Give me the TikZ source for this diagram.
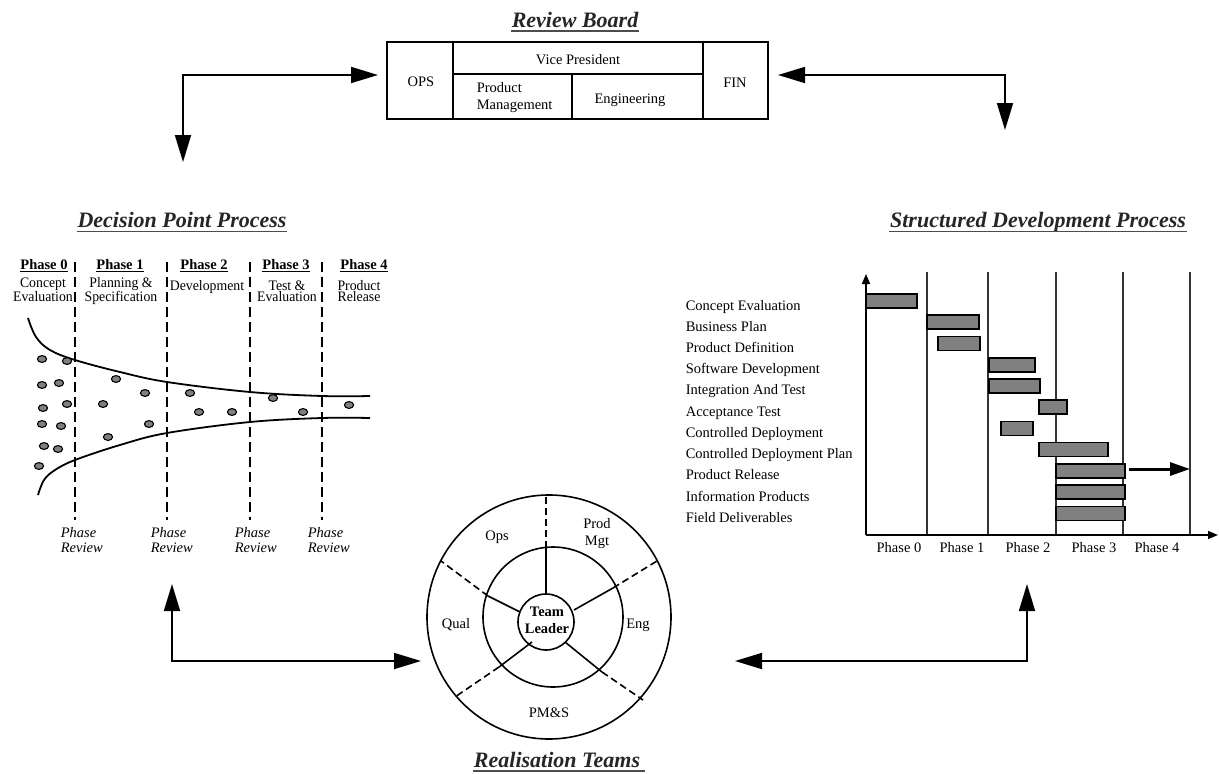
\documentclass[tikz,border=0pt]{standalone}
\usepackage{fontspec}
\setmainfont{Liberation Serif}
\newfontfamily\narrowserif[FakeStretch=0.95]{Liberation Serif}
\usetikzlibrary{arrows.meta}

\begin{document}
\begin{tikzpicture}[x=1pt,y=-1pt,
  line width=1.6pt,
  txt/.style={font=\fontsize{14.5}{17}\selectfont, inner sep=0pt, align=center},
  lbl/.style={font=\fontsize{14.5}{17}\selectfont, inner sep=0pt, anchor=base west},
  boldtxt/.style={font=\fontsize{14.5}{17}\selectfont\bfseries, inner sep=0pt, anchor=base},
  subtxt/.style={font=\narrowserif\fontsize{14.5}{11.2}\selectfont, inner sep=0pt, anchor=base, align=center},
  review/.style={font=\fontsize{14.5}{15}\selectfont\itshape, inner sep=0pt, anchor=base west, align=left},
  title/.style={font=\fontsize{22}{26}\selectfont\bfseries\itshape, text=black!85, inner sep=0pt, anchor=base},
  uline/.style={line width=1.6pt, draw=black!70},
  dblarrow/.style={line width=1.8pt, {Triangle[length=27pt,width=16pt]}-{Triangle[length=27pt,width=16pt]}},
  phaseline/.style={line width=1.8pt, dash pattern=on 10pt off 5pt},
  spokedash/.style={line width=1.6pt, dash pattern=on 7pt off 4pt},
  dot/.style={draw, line width=1.1pt, fill=black!50},
  bar/.style={draw, line width=1.6pt, fill=black!50},
  gridline/.style={line width=1.3pt, draw=black!80},
  axis/.style={line width=1.6pt, -{Triangle[length=10pt,width=8pt]}}
]
\useasboundingbox (0,0) rectangle (1219,774);
\fill[white] (0,0) rectangle (1219,774);

% ---------- Review Board ----------
\node[title] (rbTitle) at (575,27) {Review Board};
\draw[uline] ([yshift=-4pt]rbTitle.base west) -- ([yshift=-4pt]rbTitle.base east);

\draw (387,42) rectangle (768,119);
\draw (453,42) -- (453,119);
\draw (703,42) -- (703,119);
\draw (453,74) -- (703,74);
\draw (572,74) -- (572,119);
\node[txt] (ops) at (421,82) {OPS};
\node[txt] (vp) at (578,60) {Vice President};
\node[txt, align=left, anchor=west] (pm) at (476,98) {Product\\Management};
\node[txt] (eng) at (630,100) {Engineering};
\node[txt] (fin) at (735,83) {FIN};

% ---------- linking arrows ----------
\coordinate (tlDown) at (183,162);
\coordinate (tlRight) at (378,75);
\coordinate (trLeft) at (778,75);
\coordinate (trDown) at (1005,130);
\coordinate (blUp) at (172,584);
\coordinate (blRight) at (421,661);
\coordinate (brLeft) at (735,661);
\coordinate (brUp) at (1027,584);
\draw[dblarrow] (tlDown) |- (tlRight);
\draw[dblarrow] (trLeft) -| (trDown);
\draw[dblarrow] (blUp) |- (blRight);
\draw[dblarrow] (brLeft) -| (brUp);

% ---------- Decision Point Process ----------
\node[title] (dpTitle) at (182,227) {Decision Point Process};
\draw[uline] ([yshift=-4.5pt]dpTitle.base west) -- ([yshift=-4.5pt]dpTitle.base east);

\foreach \x/\n in {44/0,120/1,204/2,286/3,364/4}{
  \node[boldtxt] (ph\n) at (\x,269) {Phase \n};
  \draw[line width=1.2pt] ([yshift=-2.5pt]ph\n.base west) -- ([yshift=-2.5pt]ph\n.base east);
}
% the base anchor of a two-line node sits on its last line
\node[subtxt] (s0) at (43,301.5) {Concept\\Evaluation};
\node[subtxt] (s1) at (121,301.5) {Planning \&\\Specification};
\node[subtxt] (s2) at (207,290.5) {Development};
\node[subtxt] (s3) at (287,301.5) {Test \&\\Evaluation};
\node[subtxt] (s4) at (359,301.5) {Product\\Release};

\foreach \x in {75,167,250,322}
  \draw[phaseline] (\x,262) -- (\x,520);

\foreach \x/\i in {60/1,150/2,234/3,307/4}
  \node[review] (pr\i) at (\x,552.5) {Phase\\Review};

% funnel
\draw[line width=1.8pt] plot[smooth, tension=0.6] coordinates
  {(28,318) (36,337) (50,350) (75,360) (120,372) (167,382) (250,392) (322,396) (370,396)};
\draw[line width=1.8pt] plot[smooth, tension=0.6] coordinates
  {(38,495) (44,480) (55,470) (75,460) (120,445) (167,433) (250,422) (322,418) (370,418)};

% ideas flowing through the funnel
\foreach \x/\y in {42/359,67/361,42/385,59/383,43/408,67/404,42/424,61/426,44/446,58/449,39/466,
                   116/379,145/393,103/404,149/424,108/437,190/393,199/412,232/412,273/398,303/412,349/405}
  \draw[dot] (\x,\y) ellipse [x radius=4.6pt, y radius=3.4pt];

% ---------- Structured Development Process ----------
\node[title] (sdTitle) at (1038,227) {Structured Development Process};
\draw[uline] ([yshift=-4.5pt]sdTitle.base west) -- ([yshift=-4.5pt]sdTitle.base east);

\foreach \x in {927,988,1056,1123,1190}
  \draw[gridline] (\x,272) -- (\x,535);
\coordinate (orig) at (866,535);
\coordinate (yTip) at (866,274);
\coordinate (xTip) at (1218,535);
\draw[axis] (orig) -- (yTip);
\draw[axis] (orig) -- (xTip);

\foreach \t [count=\i from 0] in {Concept Evaluation, Business Plan, Product Definition,
    Software Development, Integration And Test, Acceptance Test, Controlled Deployment,
    Controlled Deployment Plan, Product Release, Information Products, Field Deliverables}
  \node[lbl] (task\i) at (685,{310+21.24*\i}) {\t};

\foreach \a/\b [count=\i from 0] in {866/917, 927/979, 938/980, 989/1035, 989/1040, 1039/1067,
    1001/1033, 1039/1108, 1056/1125, 1056/1125, 1056/1125}
  \draw[bar] (\a,{294+21.24*\i}) rectangle (\b,{308+21.24*\i});

\coordinate (relFrom) at (1129,469);
\coordinate (relTo) at (1190,469);
\draw[line width=3pt, -{Triangle[length=20pt,width=13pt]}] (relFrom) -- (relTo);

\foreach \x/\n in {899/0,962/1,1028/2,1094/3,1157/4}
  \node[txt, anchor=base] (gp\n) at (\x,552) {Phase \n};

% ---------- Realisation Teams ----------
\draw (549,617) circle [radius=122pt];
\draw (553,617) circle [radius=70pt];
\node[circle, draw, line width=1.6pt, minimum size=56pt, inner sep=0pt] (lead) at (546,622) {};
\node[txt, font=\fontsize{14.5}{17}\selectfont\bfseries] (leadTxt) at (547,620) {Team\\Leader};

% spokes: solid inside the middle ring, dashed outside it
\draw (546,594) -- (546,548);
\draw[spokedash] (546,548) -- (546,495);
\draw (574,610) -- (613,588);
\draw[spokedash] (613,588) -- (657,561);
\draw (520,612) -- (488,596);
\draw[spokedash] (488,596) -- (441,561);
\draw (532,642) -- (499,667);
\draw[spokedash] (499,667) -- (455,697);
\draw (565,642) -- (602,672);
\draw[spokedash] (602,672) -- (643,700);

\node[txt] (wOps) at (497,537) {Ops};
\node[txt] (wProd) at (597,534) {Prod\\Mgt};
\node[txt] (wQual) at (456,625) {Qual};
\node[txt] (wEng) at (638,625) {Eng};
\node[txt] (wPms) at (549,713) {PM\&S};

\node[title] (rtTitle) at (557,767) {Realisation Teams};
\draw[uline] ([yshift=-4pt]rtTitle.base west) -- ([yshift=-4pt,xshift=4pt]rtTitle.base east);

\end{tikzpicture}
\end{document}
